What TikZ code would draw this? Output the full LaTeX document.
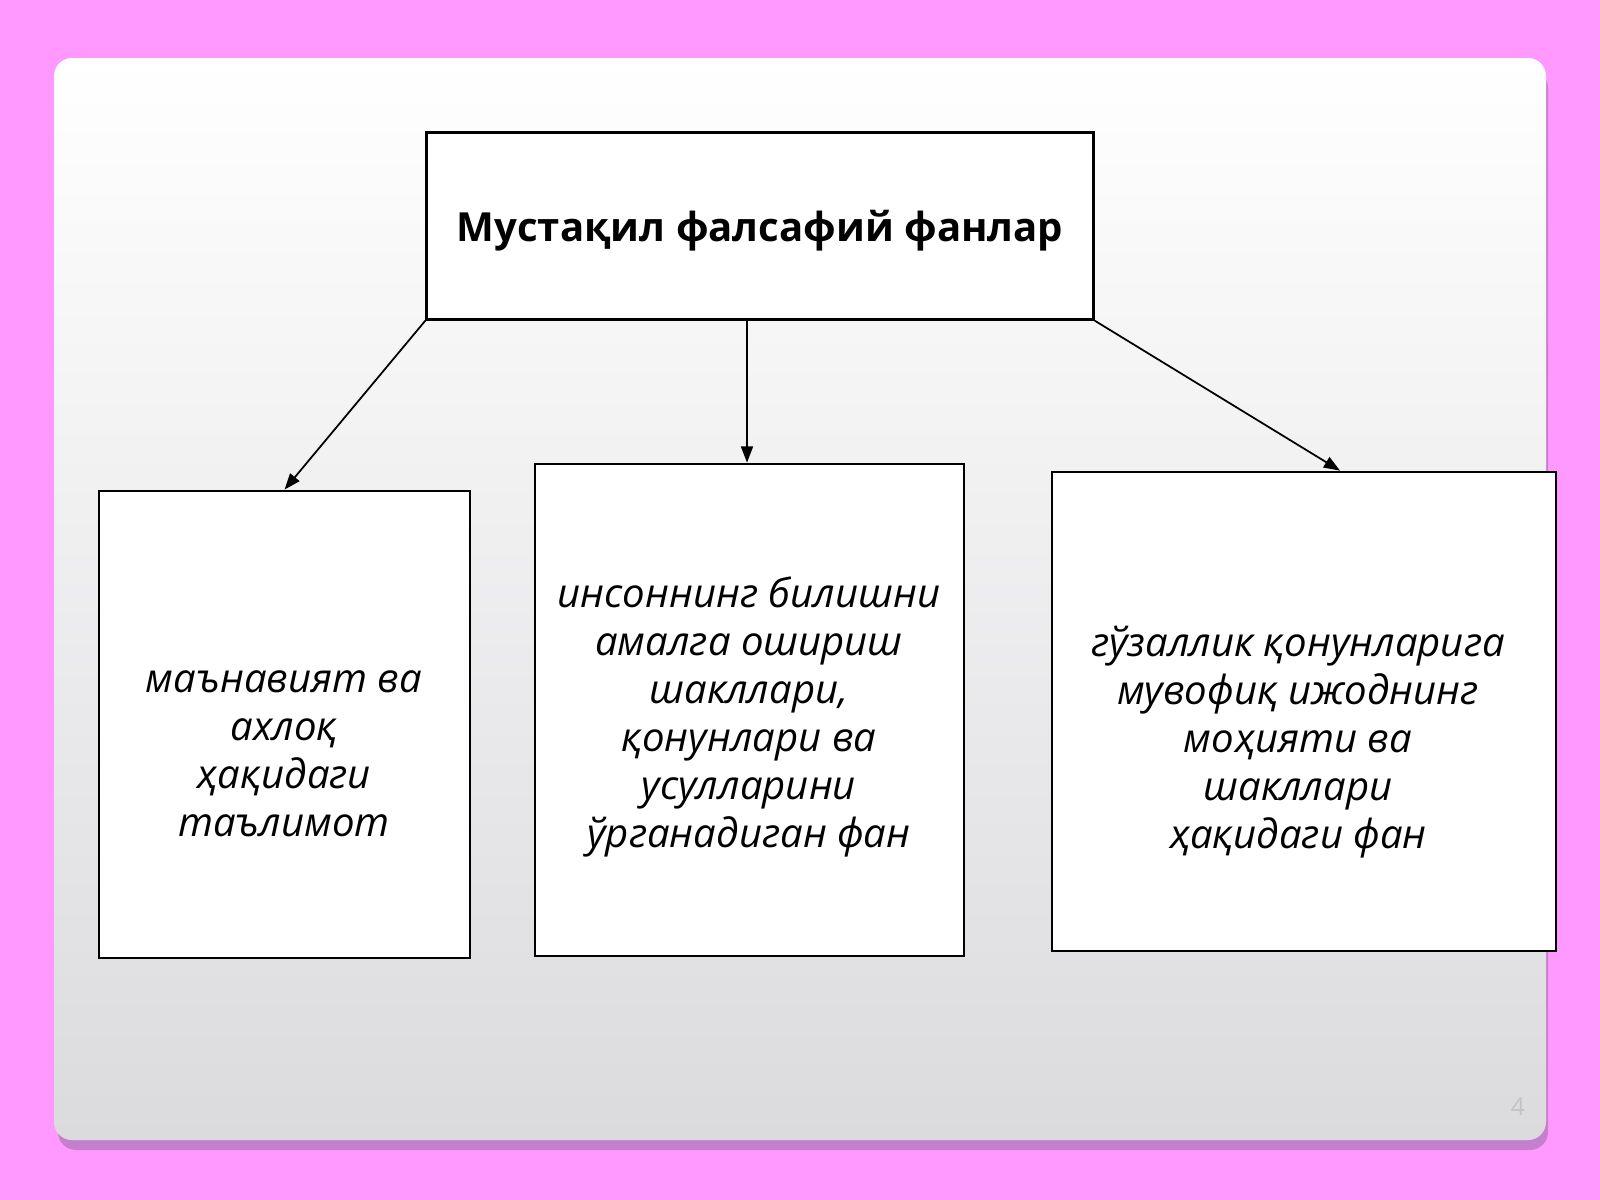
\documentclass[tikz,border=0pt]{standalone}
\usepackage{fontspec}
\setmainfont{Open Sans}
\usetikzlibrary{positioning,arrows.meta}

\definecolor{pagepink}{RGB}{255,153,255}
\definecolor{slidegray}{RGB}{219,219,222}
\definecolor{slideshadow}{RGB}{196,128,204}
\definecolor{pagenum}{RGB}{195,195,195}

\tikzset{
    headbox/.style={draw, fill=white, line width=0.7pt, minimum width=6.665cm, minimum height=1.867cm, text depth=0pt, font=\bfseries\fontsize{11.4}{14}\selectfont},
    leafbox/.style={draw, fill=white, line width=0.7pt},
    leaftext/.style={align=center, font=\itshape\fontsize{11.4}{13.66}\selectfont},
    link/.style={-{Triangle[length=4.6pt,width=3.4pt]}, line width=0.5pt}
}

\begin{document}
\begin{tikzpicture}[x=0.01cm, y=-0.01cm]
    % page and slide
    \fill[pagepink] (0,0) rectangle (1600,1200);
    \useasboundingbox (0,0) rectangle (1600,1200);
    \fill[slideshadow, rounded corners=0.18cm] (58,70) rectangle (1548,1150);
    \shade[top color=white, bottom color=slidegray, rounded corners=0.18cm] (54,58) rectangle (1546,1140);
    \node[pagenum, font=\fontsize{7}{8}\selectfont] (num) at (1518,1107) {4};

    \node[headbox]                                      (head) at (760,226) {Мустақил фалсафий фанлар};
    \node[leafbox, minimum width=3.71cm, minimum height=4.67cm] (ethics) at (284.5,724.5) {};
    \node[leafbox, minimum width=4.29cm, minimum height=4.92cm] (logic)  at (749.5,710) {};
    \node[leafbox, minimum width=5.04cm, minimum height=4.79cm] (beauty) at (1304,711.5) {};

    \node[leaftext] (ethics-t) at (284,754) {маънавият ва\\ахлоқ\\ҳақидаги\\таълимот};
    \node[leaftext] (logic-t)  at (749,717) {инсоннинг билишни\\амалга ошириш\\шакллари,\\қонунлари ва\\усулларини\\ўрганадиган фан};
    \node[leaftext] (beauty-t) at (1298,742) {гўзаллик қонунларига\\мувофиқ ижоднинг\\моҳияти ва\\шакллари\\ҳақидаги фан};

    \draw[link] (head.south west) -- (ethics.north);
    \draw[link] (head.south -| 747,0) -- (logic.north -| 747,0);
    \draw[link] (head.south east) -- ([xshift=0.36cm]beauty.north);
\end{tikzpicture}
\end{document}
